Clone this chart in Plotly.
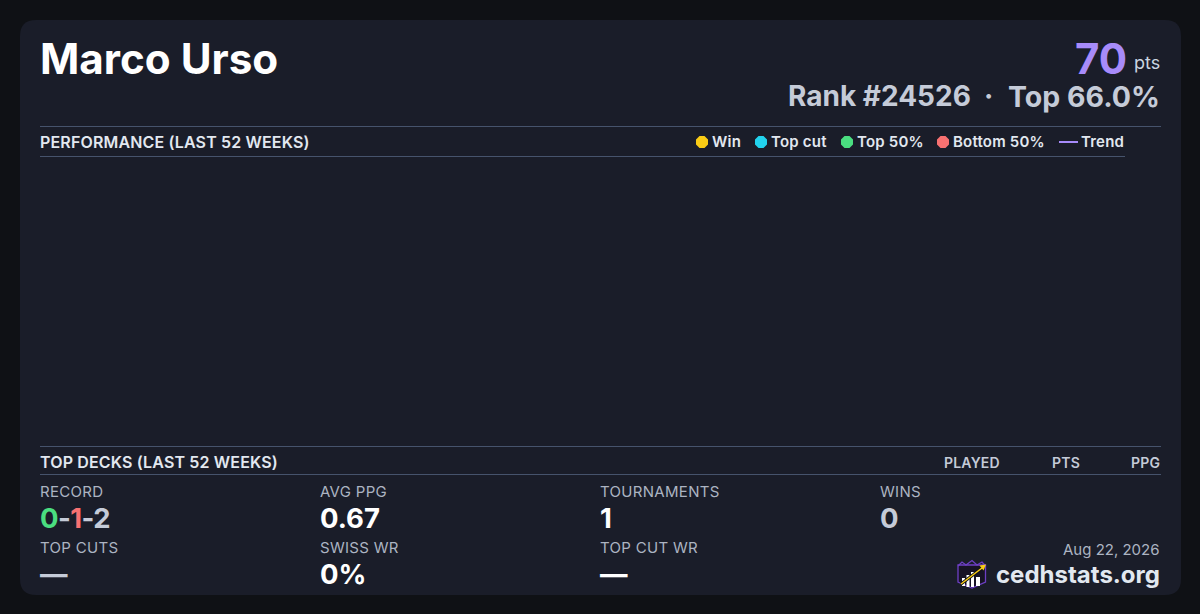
import plotly.graph_objects as go

player_name = "Marco Urso"
points = "70"
rank_label = "Rank #24526"
percentile_label = "Top 66.0%"
date_label = "Aug 22, 2026"
site_label = "cedhstats.org"

legend_labels = ["Win", "Top cut", "Top 50%", "Bottom 50%"]
legend_colors = ["#facc15", "#22d3ee", "#4ade80", "#f87171"]
trend_color = "#a78bfa"

deck_columns = ["PLAYED", "PTS", "PPG"]
stat_labels = ["RECORD", "AVG PPG", "TOURNAMENTS", "WINS", "TOP CUTS", "SWISS WR", "TOP CUT WR"]
stat_values = [
    "<span style='color:#4ade80'>0</span>-<span style='color:#f87171'>1</span>-2",
    "0.67", "1", "0", "—", "0%", "—",
]
stat_colors = ["#c5cbd8", "#ffffff", "#ffffff", "#c5cbd8", "#c5cbd8", "#ffffff", "#ffffff"]

PAGE_BG = "#0f1115"
CARD_BG = "#1a1d29"
RULE = "#46536c"
FONT = "Inter"

fig = go.Figure()


def text(x, y, s, size, color, weight=400, anchor="left", spacing=0):
    if spacing:
        s = f"<span style='letter-spacing:{spacing}px'>{s}</span>"
    fig.add_annotation(x=x, y=y, text=s, xref="x", yref="y", showarrow=False, xanchor=anchor, yanchor="middle",
                       font=dict(family=FONT, size=size, color=color, weight=weight), borderpad=0, borderwidth=0)


def rule(x0, x1, y):
    fig.add_shape(type="line", x0=x0, x1=x1, y0=y, y1=y, xref="x", yref="y", line=dict(color=RULE, width=1))


def logo_path(path, fill=None, line=None, width=0):
    fig.add_shape(type="path", path=path, xref="x", yref="y", fillcolor=fill, line=dict(color=line, width=width))


# card
fig.add_shape(type="path", xref="x", yref="y", line_width=0, fillcolor=CARD_BG, layer="below",
              path="M 36 20 L 1165 20 Q 1181 20 1181 36 L 1181 579 Q 1181 595 1165 595 L 36 595 Q 20 595 20 579 "
                   "L 20 36 Q 20 20 36 20 Z")

# header
text(40, 58, player_name, 42.2, "#ffffff", 700)
text(1127, 58, points, 42, trend_color, 700, "right")
text(1160, 62, "pts", 18, "#cbd5e1", 400, "right")
text(788, 96, rank_label, 28, "#c5cbd8", 700)
text(988, 96, "·", 28, "#c5cbd8", 700, "center")
text(1160, 96, percentile_label, 28.5, "#c5cbd8", 700, "right")

# performance section, the plot area stays empty
rule(40, 1161, 126.5)
rule(40, 1125, 156.5)
text(40, 142, "PERFORMANCE (LAST 52 WEEKS)", 16, "#e2e8f0", 600, spacing=0.15)

marker_x = [702, 761, 847, 943]
label_x = [712, 771, 857, 953]
for i in range(len(legend_labels)):
    fig.add_trace(go.Scatter(x=[marker_x[i]], y=[142], mode="markers", showlegend=False, hoverinfo="skip",
                             marker=dict(symbol="octagon", size=13, color=legend_colors[i], line_width=0)))
    text(label_x[i], 141.5, legend_labels[i], 15, "#e2e8f0", 600, spacing=0.2)
fig.add_trace(go.Scatter(x=[1059, 1078], y=[142, 142], mode="lines", showlegend=False, hoverinfo="skip",
                         line=dict(color=trend_color, width=2)))
text(1081, 141.5, "Trend", 15, "#e2e8f0", 600, spacing=0.2)

# top decks section
rule(40, 1161, 446.5)
rule(40, 1161, 474.5)
text(40, 462, "TOP DECKS (LAST 52 WEEKS)", 16, "#e2e8f0", 600, spacing=0.15)
column_right = [1000, 1080, 1160]
for i in range(len(deck_columns)):
    text(column_right[i], 462, deck_columns[i], 14, "#c5cbd8", 600, "right", spacing=0.2)

# stats grid
stat_x = [40, 320, 600, 880, 40, 320, 600]
label_y = [491.5, 491.5, 491.5, 491.5, 547.5, 547.5, 547.5]
value_y = [518, 518, 518, 518, 574, 574, 574]
for i in range(len(stat_labels)):
    text(stat_x[i], label_y[i], stat_labels[i], 15, "#acb4c2", spacing=0.3)
    text(stat_x[i], value_y[i], stat_values[i], 27.5, stat_colors[i], 700, spacing=-0.6 if i == 0 else 0)

# footer
text(1160, 549, date_label, 15, "#acb4c2", 400, "right")
text(1160, 574, site_label, 24, "#e2e8f0", 700, "right")

# logo
logo_path("M 958 565 L 985.5 565 L 985.5 582 L 972 588 L 958 582 Z", fill="#171325", line="#6d3fc4", width=1.3)
logo_path("M 958 566 L 962 562 L 966 565 L 972 560.5 L 977 565 L 982 562 L 985.5 566", line="#6d3fc4", width=1.3)
logo_path("M 962 578 H 965 V 586 H 962 Z M 966.5 575 H 969.5 V 587 H 966.5 Z M 971 572 H 974 V 587 H 971 Z "
          "M 976 577 H 980 V 586 H 976 Z", fill="#ffffff")
logo_path("M 961 584 L 982 568", line="#0f1115", width=3)
logo_path("M 961 584 L 982 568", line="#facc15", width=1.5)
logo_path("M 986 564.5 L 983.5 570.5 L 979.5 565.5 Z", fill="#facc15")

fig.update_xaxes(range=[0, 1200], visible=False, fixedrange=True)
fig.update_yaxes(range=[614, 0], visible=False, fixedrange=True)
fig.update_layout(width=1200, height=614, margin=dict(l=0, r=0, t=0, b=0), paper_bgcolor=PAGE_BG,
                  plot_bgcolor=PAGE_BG, showlegend=False)

fig.write_html("out.html", config=dict(displayModeBar=False),
               post_script="document.body.style.margin='0';document.body.style.overflow='hidden';")
